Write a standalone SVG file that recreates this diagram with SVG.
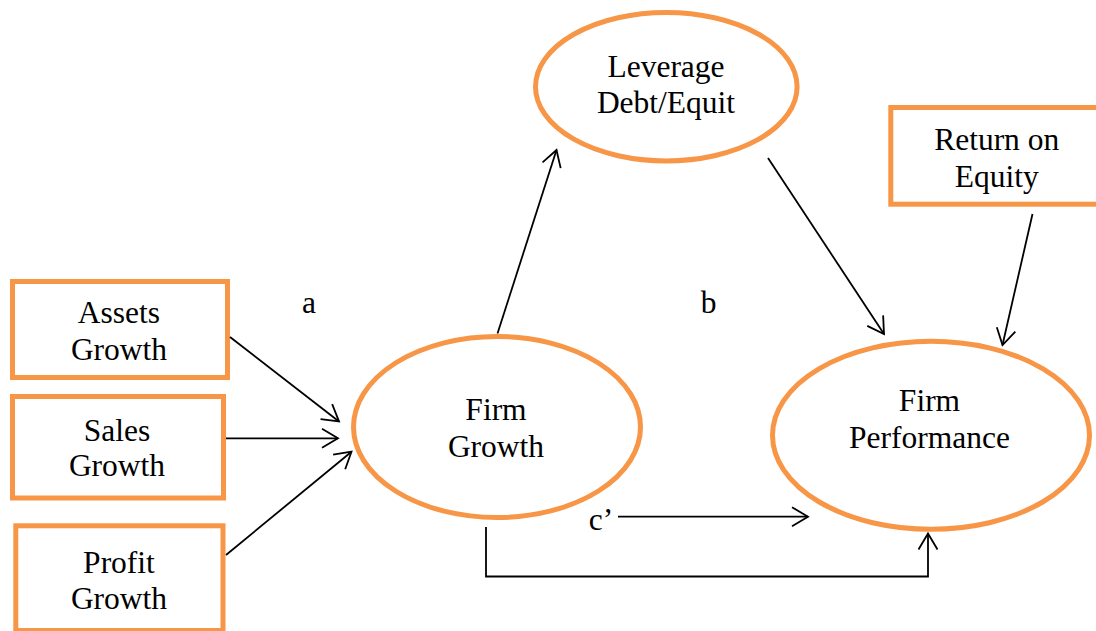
<svg xmlns="http://www.w3.org/2000/svg" width="1096" height="631" viewBox="0 0 1096 631">
<style>
.node{fill:#ffffff;stroke:#F79646;stroke-width:5}
.t{font-family:"Liberation Serif","Times New Roman",serif;font-size:31.5px;fill:#000000;text-anchor:middle}
.c{fill:none;stroke:#000000;stroke-width:1.8}
</style>
<defs>
<marker id="arr" markerUnits="userSpaceOnUse" viewBox="-18 -12 20 24" markerWidth="20" markerHeight="24" refX="0" refY="0" orient="auto">
<path d="M-16,-9.5 L0,0 L-16,9.5" fill="none" stroke="#000000" stroke-width="1.8"/>
</marker>
</defs>
<rect width="1096" height="631" fill="#ffffff"/>
<g id="assets">
<rect class="node" x="12.5" y="281.5" width="215" height="96"/>
<text class="t" x="119" y="323">Assets</text>
<text class="t" x="119" y="360">Growth</text>
</g>
<g id="sales">
<rect class="node" x="12.5" y="396.5" width="211" height="101.5"/>
<text class="t" x="117" y="440.7">Sales</text>
<text class="t" x="117" y="476">Growth</text>
</g>
<g id="profit">
<rect class="node" x="15.8" y="525.8" width="207.2" height="104.7"/>
<text class="t" x="119" y="572.7">Profit</text>
<text class="t" x="119" y="609.3">Growth</text>
</g>
<g id="leverage">
<ellipse class="node" cx="666.3" cy="86.7" rx="130.8" ry="74.2"/>
<text class="t" x="666" y="77.3">Leverage</text>
<text class="t" x="666" y="113.3">Debt/Equit</text>
</g>
<g id="roe">
<rect class="node" x="890.8" y="107.5" width="220" height="96.7"/>
<text class="t" x="996.7" y="150">Return on</text>
<text class="t" x="996.7" y="186.7">Equity</text>
</g>
<g id="firmgrowth">
<ellipse class="node" cx="497" cy="427" rx="143.5" ry="90.5"/>
<text class="t" x="496" y="420">Firm</text>
<text class="t" x="496" y="457">Growth</text>
</g>
<g id="firmperformance">
<ellipse class="node" cx="931" cy="435.3" rx="158.5" ry="94"/>
<text class="t" x="929.5" y="410.7">Firm</text>
<text class="t" x="929.5" y="447.7">Performance</text>
</g>
<g id="labels">
<text class="t" x="309" y="313.3">a</text>
<text class="t" x="708.5" y="313.3">b</text>
<text class="t" x="601" y="530">c’</text>
</g>
<g id="connectors">
<line class="c" x1="230" y1="337" x2="339" y2="421.5" marker-end="url(#arr)"/>
<line class="c" x1="226" y1="438.3" x2="338" y2="438.3" marker-end="url(#arr)"/>
<line class="c" x1="226" y1="555" x2="351.5" y2="451.7" marker-end="url(#arr)"/>
<line class="c" x1="497.5" y1="333.5" x2="556.5" y2="150" marker-end="url(#arr)"/>
<line class="c" x1="768" y1="158" x2="884" y2="334" marker-end="url(#arr)"/>
<line class="c" x1="1032.5" y1="214" x2="1002.5" y2="345" marker-end="url(#arr)"/>
<line class="c" x1="618" y1="516.7" x2="808" y2="516.7" marker-end="url(#arr)"/>
<polyline class="c" points="486,527 486,576.5 928,576.5 928,533.5" marker-end="url(#arr)"/>
</g>
</svg>
